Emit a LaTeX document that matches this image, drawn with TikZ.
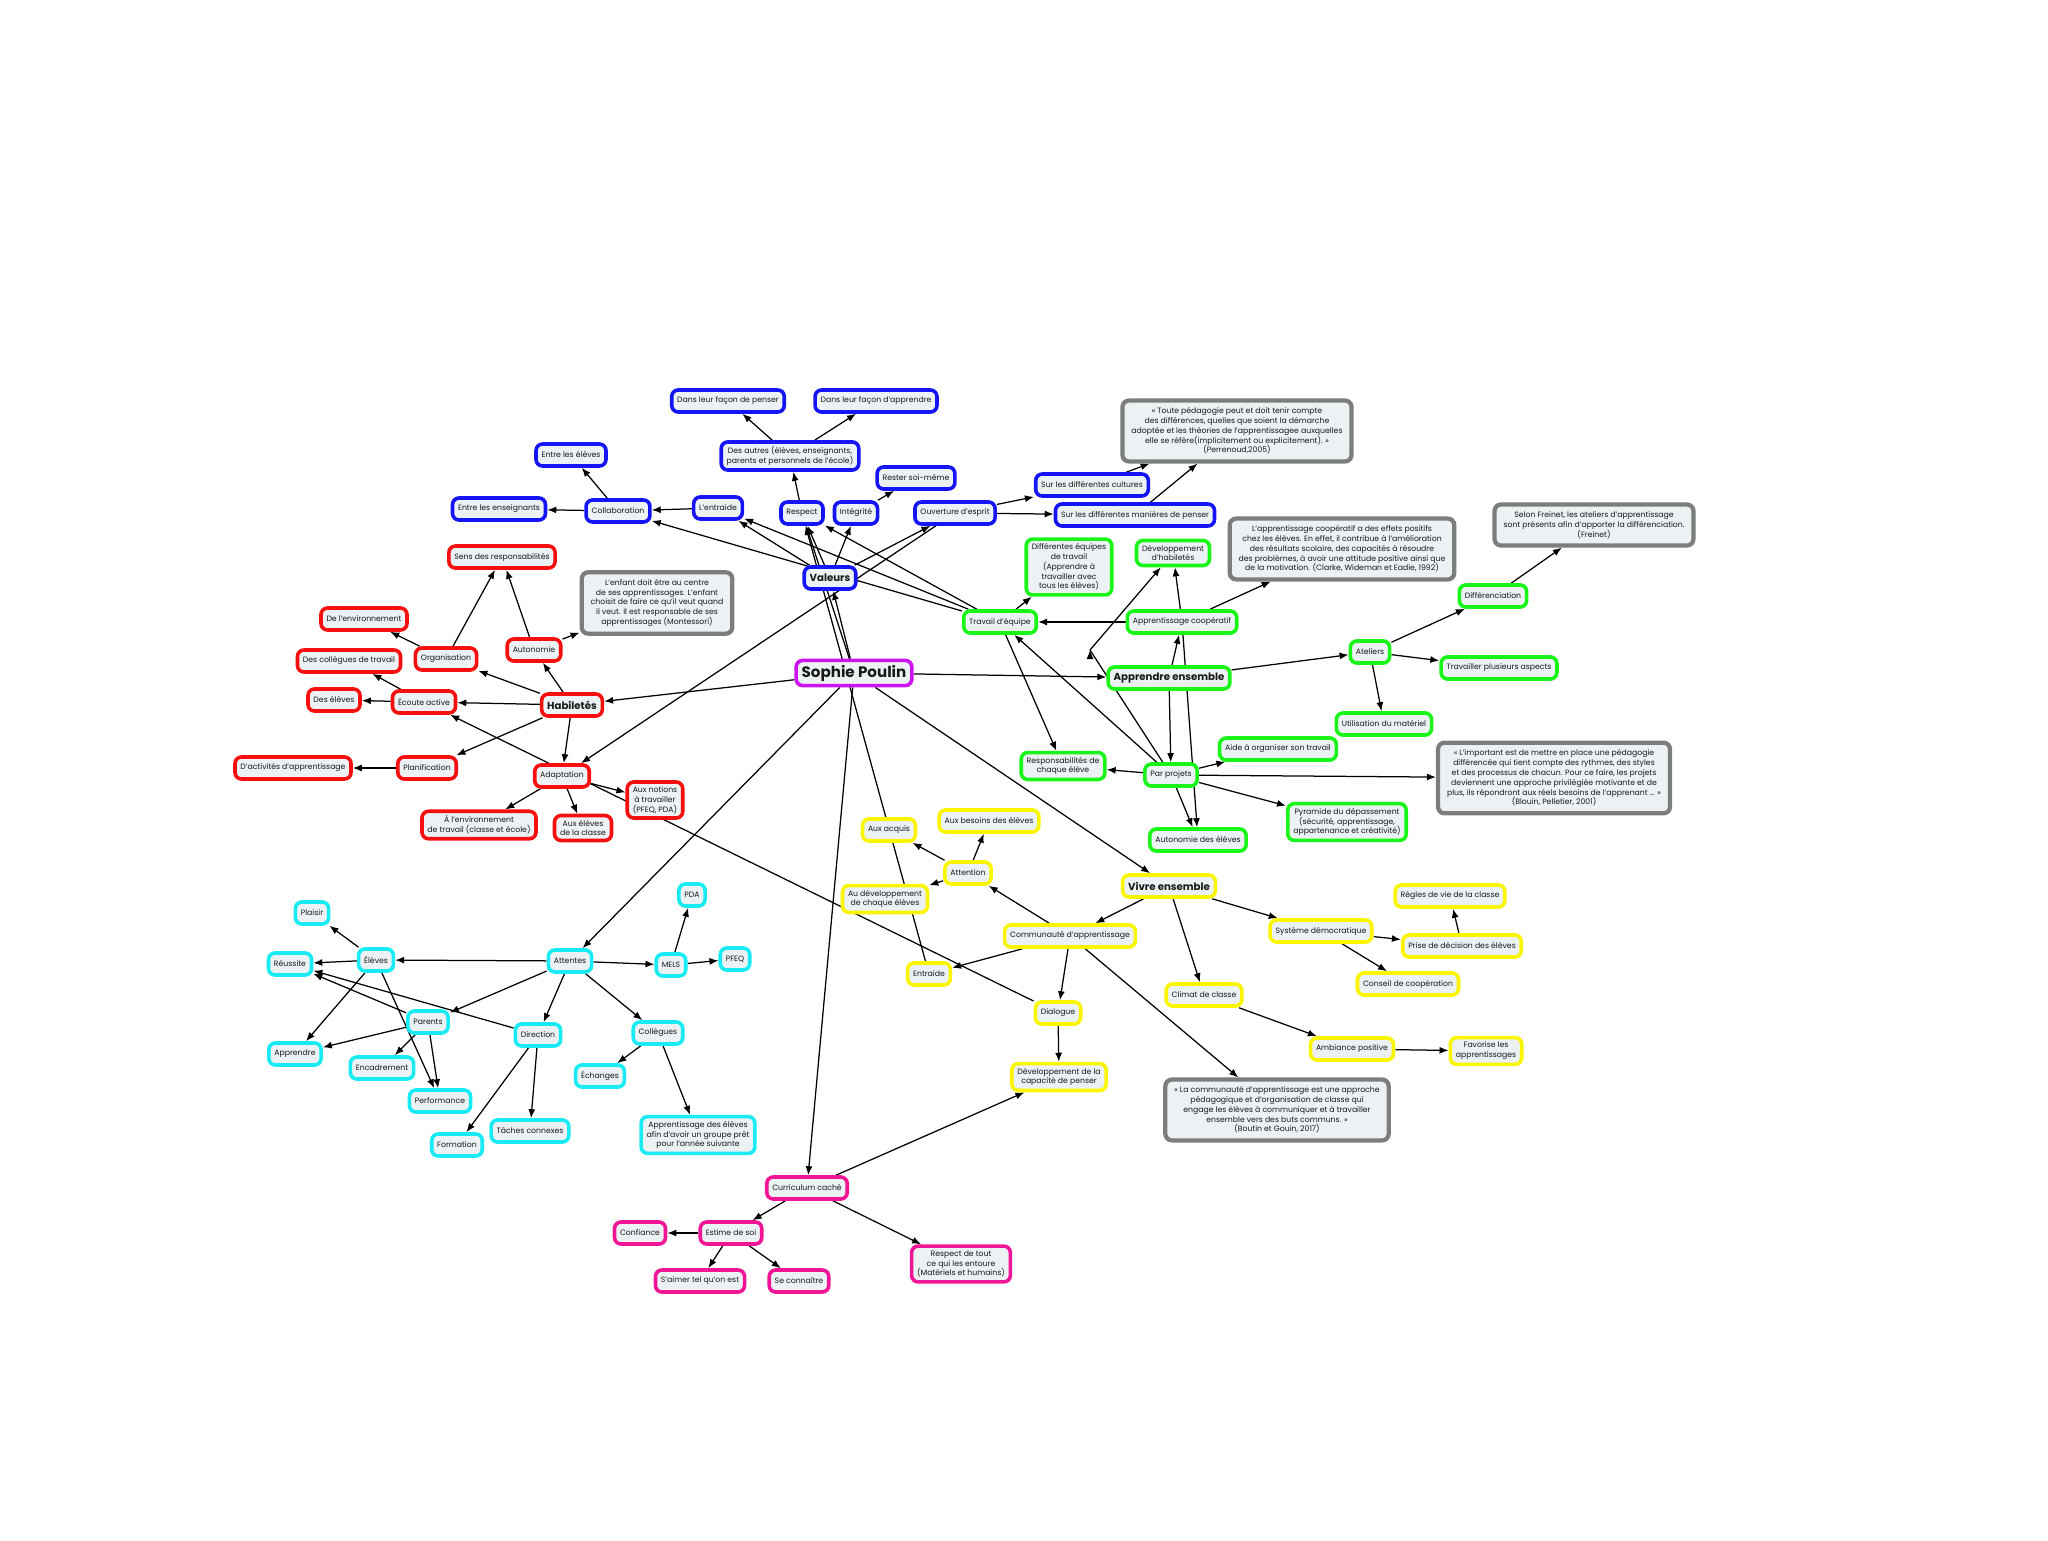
\documentclass[tikz,border=0pt]{standalone}
\usepackage{fontspec}
\setmainfont{Poppins}
\usetikzlibrary{arrows.meta,backgrounds}

\definecolor{boxfill}{RGB}{236,241,244}
\definecolor{cmblue}{RGB}{20,20,245}
\definecolor{cmred}{RGB}{245,15,15}
\definecolor{cmgreen}{RGB}{25,245,25}
\definecolor{cmyellow}{RGB}{250,245,0}
\definecolor{cmcyan}{RGB}{25,235,245}
\definecolor{cmpink}{RGB}{240,20,150}
\definecolor{cmviolet}{RGB}{205,20,240}
\definecolor{cmgray}{RGB}{125,125,125}
\definecolor{txt}{RGB}{25,25,25}

\begin{document}
\begin{tikzpicture}[x=0.2mm,y=-0.2mm,->,>={Latex[length=1.8mm,width=1.4mm]},
  concept/.style={draw,fill=boxfill,rounded corners=1.3mm,line width=0.72mm,align=center,
    inner xsep=1.1mm,inner ysep=0.9mm,minimum height=4.4mm,text=txt,
    font=\fontsize{4.4}{5.6}\selectfont},
  blue node/.style={concept,draw=cmblue},
  red node/.style={concept,draw=cmred},
  green node/.style={concept,draw=cmgreen},
  yellow node/.style={concept,draw=cmyellow},
  cyan node/.style={concept,draw=cmcyan},
  pink node/.style={concept,draw=cmpink},
  quote node/.style={concept,draw=cmgray,line width=0.85mm,inner xsep=1.8mm,inner ysep=1.4mm},
  big node/.style={font=\fontsize{5.8}{7}\selectfont\bfseries},
  link/.style={line width=0.25mm,draw=black}]
\useasboundingbox (0,0) rectangle (2048,1541);

% centre
\node[concept,draw=cmviolet,font=\fontsize{8.6}{10}\selectfont\bfseries] (sophie) at (854,673) {Sophie Poulin};

% valeurs
\node[blue node,big node] (valeurs) at (830,578) {Valeurs};
\node[blue node] (respect) at (802,513) {Respect};
\node[blue node] (integrite) at (856,513) {Intégrité};
\node[blue node] (ouverture) at (955,513) {Ouverture d'esprit};
\node[blue node] (entraideV) at (718,508) {L'entraide};
\node[blue node] (collab) at (618,511) {Collaboration};
\node[blue node] (entreEns) at (499,509) {Entre les enseignants};
\node[blue node] (entreEleves) at (571,455) {Entre les élèves};
\node[blue node] (desAutres) at (790,456) {Des autres (élèves, enseignants,\\parents et personnels de l'école)};
\node[blue node] (dansPenser) at (728,401) {Dans leur façon de penser};
\node[blue node] (dansApprendre) at (876,401) {Dans leur façon d'apprendre};
\node[blue node] (rester) at (916,478) {Rester soi-même};
\node[blue node] (cultures) at (1092,485) {Sur les différentes cultures};
\node[blue node] (manieres) at (1135,515) {Sur les différentes manières de penser};
\node[quote node] (perrenoud) at (1237,431) {« Toute pédagogie peut et doit tenir compte\\des différences, quelles que soient la démarche\\adoptée et les théories de l'apprentissagee auxquelles\\elle se réfère(implicitement ou explicitement). »\\(Perrenoud,2005)};

% habiletes
\node[red node,big node] (habiletes) at (572,705) {Habiletés};
\node[red node] (organisation) at (446,659) {Organisation};
\node[red node] (autonomie) at (534,650) {Autonomie};
\node[red node] (sens) at (502,557) {Sens des responsabilités};
\node[red node] (environnement) at (364,619) {De l'environnement};
\node[red node] (collegues) at (349,661) {Des collègues de travail};
\node[red node] (ecoute) at (424,702) {Écoute active};
\node[red node] (desEleves) at (334,700) {Des élèves};
\node[red node] (planification) at (427,768) {Planification};
\node[red node] (activites) at (293,768) {D'activités d'apprentissage};
\node[red node] (adaptation) at (562,776) {Adaptation};
\node[red node] (aEnv) at (479,825) {À l'environnement\\de travail (classe et école)};
\node[red node] (auxEleves) at (583,828) {Aux élèves\\de la classe};
\node[red node] (auxNotions) at (655,800) {Aux notions\\à travailler\\(PFEQ, PDA)};
\node[quote node] (montessori) at (657,603) {L'enfant doit être au centre\\de ses apprentissages. L'enfant\\choisit de faire ce qu'il veut quand\\il veut. Il est responsable de ses\\apprentissages (Montessori)};

% apprendre ensemble
\node[green node,big node] (apprendre) at (1169,678) {Apprendre ensemble};
\node[green node] (coop) at (1182,622) {Apprentissage coopératif};
\node[green node] (travail) at (1000,622) {Travail d'équipe};
\node[green node] (equipes) at (1069,567) {Différentes équipes\\de travail\\(Apprendre à\\travailler avec\\tous les élèves)};
\node[green node] (devHab) at (1173,553) {Développement\\d'habiletés};
\node[green node] (ateliers) at (1370,652) {Ateliers};
\node[green node] (differenciation) at (1493,596) {Différenciation};
\node[green node] (travailler) at (1499,668) {Travailler plusieurs aspects};
\node[green node] (utilisation) at (1384,724) {Utilisation du matériel};
\node[green node] (projets) at (1171,775) {Par projets};
\node[green node] (responsabilites) at (1063,766) {Responsabilités de\\chaque élève};
\node[green node] (aide) at (1278,749) {Aide à organiser son travail};
\node[green node] (pyramide) at (1347,822) {Pyramide du dépassement\\(sécurité, apprentissage,\\appartenance et créativité)};
\node[green node] (autonomieEl) at (1198,840) {Autonomie des élèves};
\node[quote node] (clarke) at (1342,549) {L'apprentissage coopératif a des effets positifs\\chez les élèves. En effet, il contribue à l'amélioration\\des résultats scolaire, des capacités à résoudre\\des problèmes, à avoir une attitude positive ainsi que\\de la motivation. (Clarke, Wideman et Eadie, 1992)};
\node[quote node] (freinet) at (1594,525) {Selon Freinet, les ateliers d'apprentissage\\sont présents afin d'apporter la différenciation.\\(Freinet)};
\node[quote node] (blouin) at (1554,778) {« L'important est de mettre en place une pédagogie\\différencée qui tient compte des rythmes, des styles\\et des processus de chacun. Pour ce faire, les projets\\deviennent une approche privilégiée motivante et de\\plus, ils répondront aux réels besoins de l'apprenant ... »\\(Blouin, Pelletier, 2001)};
\coordinate (bendA) at (1090,650);

% vivre ensemble
\node[yellow node,big node] (vivre) at (1169,886) {Vivre ensemble};
\node[yellow node] (communaute) at (1070,936) {Communauté d'apprentissage};
\node[yellow node] (attention) at (968,873) {Attention};
\node[yellow node] (auxAcquis) at (889,830) {Aux acquis};
\node[yellow node] (besoins) at (989,821) {Aux besoins des élèves};
\node[yellow node] (auDev) at (885,899) {Au développement\\de chaque élèves};
\node[yellow node] (entraide) at (929,974) {Entraide};
\node[yellow node] (dialogue) at (1058,1013) {Dialogue};
\node[yellow node] (devCap) at (1059,1077) {Développement de la\\capacité de penser};
\node[yellow node] (climat) at (1204,995) {Climat de classe};
\node[yellow node] (ambiance) at (1352,1049) {Ambiance positive};
\node[yellow node] (favorise) at (1486,1051) {Favorise les\\apprentissages};
\node[yellow node] (systeme) at (1321,931) {Système démocratique};
\node[yellow node] (prise) at (1462,946) {Prise de décision des élèves};
\node[yellow node] (regles) at (1450,896) {Règles de vie de la classe};
\node[yellow node] (conseil) at (1408,984) {Conseil de coopération};
\node[quote node] (boutin) at (1277,1110) {« La communauté d’apprentissage est une approche\\pédagogique et d’organisation de classe qui\\engage les élèves à communiquer et à travailler\\ensemble vers des buts communs. »\\(Boutin et Gouin, 2017)};

% attentes
\node[cyan node] (attentes) at (570,961) {Attentes};
\node[cyan node] (eleves) at (376,960) {Élèves};
\node[cyan node] (plaisir) at (312,913) {Plaisir};
\node[cyan node] (reussite) at (290,964) {Réussite};
\node[cyan node] (apprendreC) at (295,1054) {Apprendre};
\node[cyan node] (parents) at (428,1022) {Parents};
\node[cyan node] (encadrement) at (382,1068) {Encadrement};
\node[cyan node] (performance) at (440,1101) {Performance};
\node[cyan node] (direction) at (538,1035) {Direction};
\node[cyan node] (formation) at (457,1145) {Formation};
\node[cyan node] (taches) at (530,1131) {Tâches connexes};
\node[cyan node] (colleguesC) at (658,1033) {Collègues};
\node[cyan node] (echanges) at (600,1076) {Échanges};
\node[cyan node] (apprentissageEl) at (698,1135) {Apprentissage des élèves\\afin d'avoir un groupe prêt\\pour l'année suivante};
\node[cyan node] (mels) at (671,965) {MELS};
\node[cyan node] (pda) at (692,895) {PDA};
\node[cyan node] (pfeq) at (735,959) {PFEQ};

% curriculum cache
\node[pink node] (curriculum) at (807,1188) {Curriculum caché};
\node[pink node] (estime) at (731,1233) {Estime de soi};
\node[pink node] (confiance) at (640,1233) {Confiance};
\node[pink node] (aimer) at (700,1281) {S'aimer tel qu'on est};
\node[pink node] (connaitre) at (799,1281) {Se connaître};
\node[pink node] (respectTout) at (961,1264) {Respect de tout\\ce qui les entoure\\(Matériels et humains)};

\begin{scope}[on background layer]
\path[link]
(sophie) edge (valeurs)
    edge (respect)
    edge (habiletes)
    edge (apprendre)
    edge (vivre)
    edge (attentes)
    edge (curriculum)
(valeurs) edge (entraideV)
    edge (respect)
    edge (integrite)
    edge (ouverture)
(entraideV) edge (collab)
(collab) edge (entreEns)
    edge (entreEleves)
(respect) edge (desAutres)
(desAutres) edge (dansPenser)
    edge (dansApprendre)
(integrite) edge (rester)
(ouverture) edge (cultures)
    edge (manieres)
    edge (adaptation)
(cultures) edge (perrenoud)
(manieres) edge (perrenoud)
;
\path[link]
(habiletes) edge (organisation)
    edge (autonomie)
    edge (ecoute)
    edge (planification)
    edge (adaptation)
(organisation) edge (environnement)
    edge (sens)
(autonomie) edge (sens)
    edge (montessori)
(ecoute) edge (desEleves)
    edge (collegues)
(planification) edge (activites)
(adaptation) edge (aEnv)
    edge (auxEleves)
    edge (auxNotions)
;
\path[link]
(apprendre) edge (coop)
    edge (projets)
    edge (ateliers)
(coop) edge (travail)
    edge (devHab)
    edge (clarke)
    edge (autonomieEl)
(travail) edge (equipes)
    edge (responsabilites)
    edge (collab)
    edge (entraideV)
    edge (respect)
(ateliers) edge (differenciation)
    edge (travailler)
    edge (utilisation)
(differenciation) edge (freinet)
(projets) edge (responsabilites)
    edge (aide)
    edge (blouin)
    edge (pyramide)
    edge (autonomieEl)
    edge (travail)
    edge[-] (bendA)
(bendA) edge (devHab)
;
\path[link]
(vivre) edge (communaute)
    edge (climat)
    edge (systeme)
(communaute) edge (attention)
    edge (entraide)
    edge (dialogue)
    edge (boutin)
(attention) edge (auxAcquis)
    edge (besoins)
    edge (auDev)
(dialogue) edge (devCap)
    edge (ecoute)
(entraide) edge (respect)
(climat) edge (ambiance)
(ambiance) edge (favorise)
(systeme) edge (prise)
    edge (conseil)
(prise) edge (regles)
;
\path[link]
(attentes) edge (eleves)
    edge (parents)
    edge (direction)
    edge (colleguesC)
    edge (mels)
(eleves) edge (plaisir)
    edge (reussite)
    edge (apprendreC)
    edge (performance)
(parents) edge (reussite)
    edge (apprendreC)
    edge (encadrement)
    edge (performance)
(direction) edge (reussite)
    edge (formation)
    edge (taches)
(colleguesC) edge (echanges)
    edge (apprentissageEl)
(mels) edge (pda)
    edge (pfeq)
(curriculum) edge (estime)
    edge (respectTout)
    edge (devCap)
(estime) edge (confiance)
    edge (aimer)
    edge (connaitre)
;
\end{scope}
\end{tikzpicture}
\end{document}
